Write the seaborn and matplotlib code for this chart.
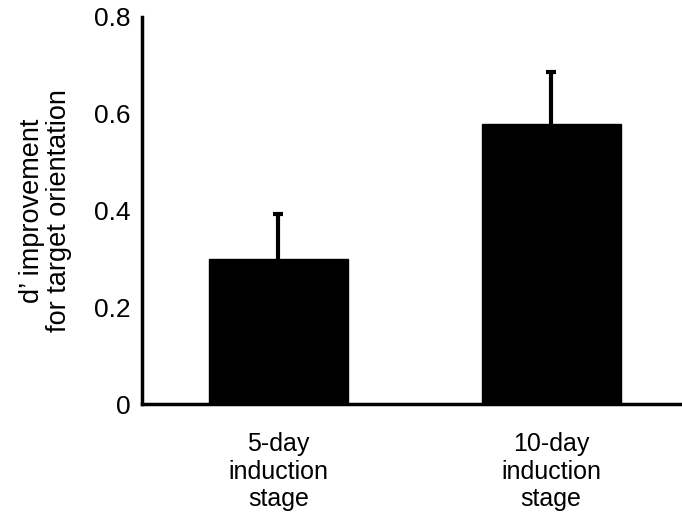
import matplotlib
matplotlib.use("Agg")
import matplotlib.pyplot as plt
import seaborn as sns
import pandas as pd

categories = ["5-day\ninduction\nstage", "10-day\ninduction\nstage"]
means = [0.300, 0.578]
sems = [0.092, 0.108]
yticks = [0, 0.2, 0.4, 0.6, 0.8]
yticklabels = ["0", "0.2", "0.4", "0.6", "0.8"]

sns.set_theme(style="white")
plt.rcParams["font.family"] = ["Liberation Sans", "DejaVu Sans"]
plt.rcParams["text.color"] = "black"
plt.rcParams["axes.labelcolor"] = "black"
plt.rcParams["xtick.color"] = "black"
plt.rcParams["ytick.color"] = "black"

df = pd.DataFrame({"stage": categories, "value": means})

fig = plt.figure(figsize=(6.82, 5.2), dpi=100)
ax = fig.add_axes([142 / 682, 116 / 520, 1 - 142 / 682, (404 - 17) / 520])

sns.barplot(data=df, x="stage", y="value", color="black", width=0.51,
            errorbar=None, ax=ax, saturation=1, edgecolor="black", zorder=2)
eb = ax.errorbar(range(len(means)), means, yerr=[[0] * len(sems), sems],
                 fmt="none", ecolor="black", elinewidth=3, capsize=3.6, capthick=3,
                 zorder=1)
# hide the lower caps (one-sided error bars)
eb[1][0].set_visible(False)

ax.set_xlim(-0.5, 1.48)
ax.set_ylim(0, 0.8)
ax.set_yticks(yticks)
ax.set_yticklabels(yticklabels, fontsize=19)
ax.tick_params(axis="y", direction="in", length=6, width=2, color="black", pad=8)
ax.tick_params(axis="x", length=0, labelsize=18, pad=20)
for lbl in ax.get_xticklabels():
    lbl.set_linespacing(1.2)
ax.set_xlabel("")
ax.set_ylabel("d’ improvement\nfor target orientation", fontsize=19.5, labelpad=16,
              linespacing=1.05)
for s in ["top", "right"]:
    ax.spines[s].set_visible(False)
for s in ["left", "bottom"]:
    ax.spines[s].set_color("black")
    ax.spines[s].set_linewidth(2.5)

fig.savefig("out.png", dpi=100)
